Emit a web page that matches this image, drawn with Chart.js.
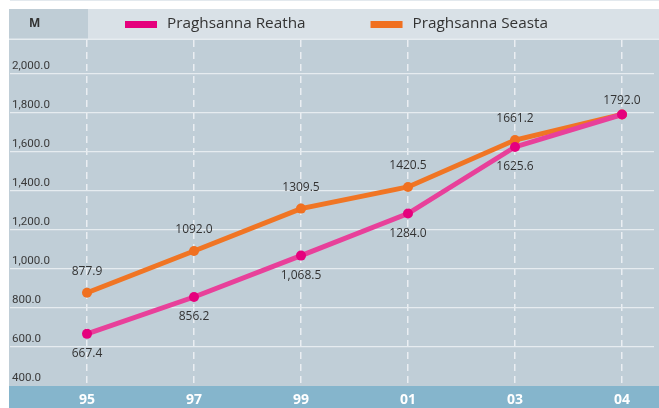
<!DOCTYPE html>
<html>
<head>
<meta charset="utf-8">
<script src="https://cdn.jsdelivr.net/npm/chart.js@4.4.1/dist/chart.umd.min.js"></script>
<style>
  html, body { margin: 0; padding: 0; background: #fff; }
  canvas { display: block; }
</style>
</head>
<body>
<canvas id="myChart" width="659" height="408"></canvas>
<script>
const years = ['95', '97', '99', '01', '03', '04'];
const reatha = [667.4, 856.2, 1068.5, 1284.0, 1625.6, 1792.0];
const seasta = [877.9, 1092.0, 1309.5, 1420.5, 1661.2, 1792.0];
const reathaLabels = ['667.4', '856.2', '1,068.5', '1284.0', '1625.6', '1792.0'];
const seastaLabels = ['877.9', '1092.0', '1309.5', '1420.5', '1661.2', '1792.0'];
const yTicks = [400, 600, 800, 1000, 1200, 1400, 1600, 1800, 2000];
const unitLabel = 'M';
const seriesNames = ['Praghsanna Reatha', 'Praghsanna Seasta'];

const toPoints = (arr) => arr.map((v, i) => ({ x: i, y: v }));

// backgrounds, header band and bottom band
const backdrop = {
  id: 'backdrop',
  beforeDraw(chart) {
    const { ctx, chartArea: a, width, height } = chart;
    ctx.save();
    ctx.fillStyle = '#ffffff';
    ctx.fillRect(0, 0, width, height);
    ctx.fillStyle = '#e3e9ee';
    ctx.fillRect(10, 0, width - 10, 1);
    ctx.fillStyle = '#c0ced7';
    ctx.fillRect(9, a.top, width - 9, a.bottom - a.top);
    ctx.fillStyle = '#85b5cc';
    ctx.fillRect(9, a.bottom, width - 9, height - a.bottom);
    ctx.fillStyle = '#d9e1e7';
    ctx.fillRect(9, 9, width - 9, a.top - 9);
    ctx.fillStyle = '#bfcdd6';
    ctx.fillRect(9, 9, 79, a.top - 9);
    ctx.fillStyle = '#e6ecf0';
    ctx.fillRect(9, a.top - 1.5, width - 9, 1.5);
    ctx.restore();
  },
  afterDraw(chart) {
    const { ctx } = chart;
    ctx.save();
    ctx.fillStyle = '#333';
    ctx.font = 'bold 12px "Open Sans"';
    ctx.textBaseline = 'middle';
    ctx.textAlign = 'left';
    ctx.fillText(unitLabel, 29, 24);

    // legend
    ctx.font = '15.3px "Open Sans"';
    let x = 125;
    chart.data.datasets.forEach((ds) => {
      ctx.fillStyle = ds.pointBackgroundColor;
      ctx.fillRect(x, 21, 32, 7);
      ctx.fillStyle = '#333';
      ctx.fillText(ds.label, x + 42, 24);
      x += 42 + ctx.measureText(ds.label).width + 65;
    });
    ctx.restore();
  }
};

// value labels next to the points
const valueLabels = {
  id: 'valueLabels',
  afterDatasetsDraw(chart) {
    const { ctx } = chart;
    const m0 = chart.getDatasetMeta(0).data;
    const m1 = chart.getDatasetMeta(1).data;
    ctx.save();
    ctx.font = '12px "Open Sans"';
    ctx.fillStyle = '#333';
    ctx.textAlign = 'center';
    ctx.textBaseline = 'middle';
    m0.forEach((p, i) => {
      if (reatha[i] === seasta[i]) {
        ctx.fillText(reathaLabels[i], p.x, p.y - 14);
      } else {
        ctx.fillText(reathaLabels[i], p.x, p.y + 20);
      }
    });
    m1.forEach((p, i) => {
      if (reatha[i] === seasta[i]) return;
      ctx.fillText(seastaLabels[i], p.x, p.y - 21);
    });
    ctx.restore();
  }
};

const ctx = document.getElementById('myChart');

new Chart(ctx, {
  type: 'line',
  data: {
    datasets: [
      {
        label: seriesNames[0],
        data: toPoints(reatha),
        borderColor: '#e8409a',
        borderWidth: 5,
        pointBackgroundColor: '#e5007d',
        pointBorderColor: '#e5007d',
        pointRadius: 5,
        pointBorderWidth: 0,
        tension: 0
      },
      {
        label: seriesNames[1],
        data: toPoints(seasta),
        borderColor: '#f07524',
        borderWidth: 5,
        pointBackgroundColor: '#f07020',
        pointBorderColor: '#f07020',
        pointRadius: 5,
        pointBorderWidth: 0,
        tension: 0
      }
    ]
  },
  options: {
    responsive: false,
    devicePixelRatio: 1,
    animation: false,
    layout: { padding: { left: 10, top: 40, right: 0, bottom: 0 } },
    scales: {
      x: {
        type: 'linear',
        min: -0.7196,
        max: 5.299,
        afterFit: (s) => { s.height = 22; s.paddingLeft = 0; s.paddingRight = 0; },
        afterBuildTicks: (s) => { s.ticks = years.map((_, i) => ({ value: i })); },
        border: { display: false, dash: [7, 5] },
        grid: {
          drawTicks: false,
          color: 'rgba(238,242,245,0.9)',
          lineWidth: 1.5
        },
        ticks: {
          autoSkip: false,
          maxRotation: 0,
          padding: 6,
          color: '#ffffff',
          font: { family: '"Open Sans"', size: 14, weight: 'bold' },
          callback: (v) => years[v]
        }
      },
      y: {
        min: 400,
        max: 2174,
        afterFit: (s) => { s.width = 0; s.paddingTop = 0; s.paddingBottom = 0; },
        afterBuildTicks: (s) => { s.ticks = yTicks.map((v) => ({ value: v })); },
        border: { display: false },
        grid: {
          drawTicks: false,
          color: (c) => (c.tick && c.tick.value === 400 ? 'rgba(0,0,0,0)' : '#e6ecf0'),
          lineWidth: 1.3
        },
        ticks: {
          mirror: true,
          padding: 2,
          labelOffset: -8,
          color: '#3a3a3a',
          font: { family: 'Roboto', size: 11.6 },
          callback: (v) => v.toLocaleString('en-US', { minimumFractionDigits: 1, maximumFractionDigits: 1 })
        }
      }
    },
    plugins: {
      legend: { display: false },
      tooltip: { enabled: false }
    }
  },
  plugins: [backdrop, valueLabels]
});
</script>
</body>
</html>
